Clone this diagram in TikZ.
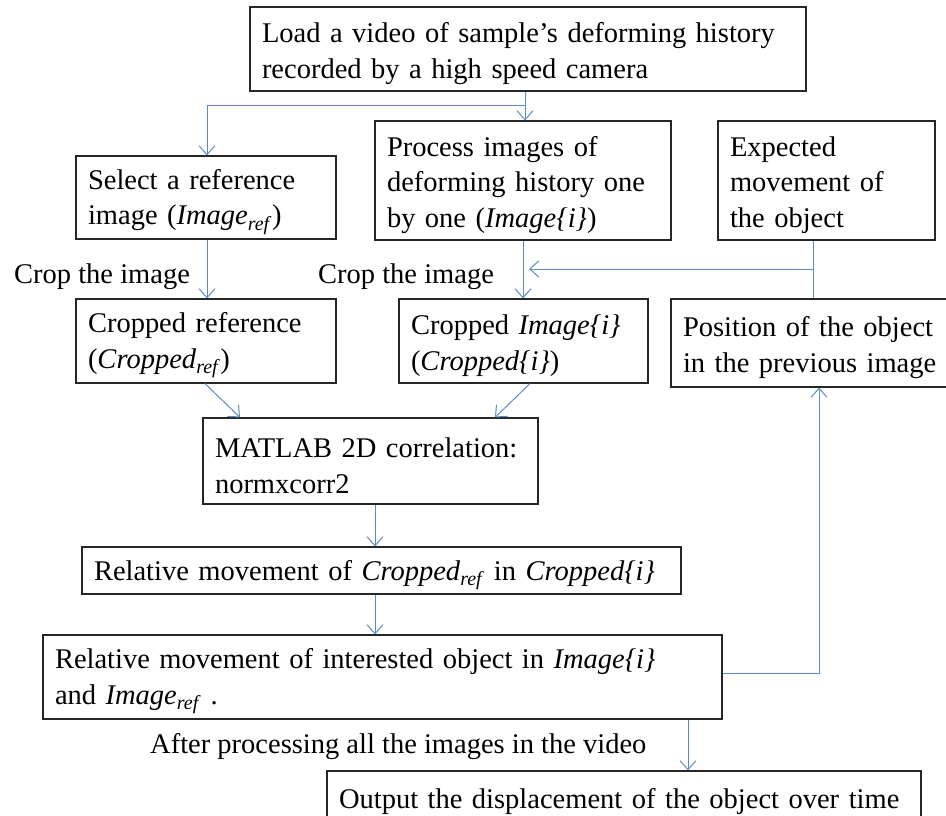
\documentclass[tikz,border=0pt]{standalone}
\usepackage{fontspec}
\setmainfont{Liberation Serif}
\usetikzlibrary{arrows.meta}
\definecolor{arrowblue}{HTML}{5B8BC9}
\tikzset{
  box/.style={draw=black!85, line width=1.1pt, rectangle, inner xsep=12pt, inner ysep=0pt, align=left, font=\fontsize{28.5}{35.5}\selectfont},
  arr/.style={draw=arrowblue, line width=1pt, -{Straight Barb[length=9pt,width=16pt,line width=1pt]}},
  ln/.style={draw=arrowblue, line width=1pt},
  lbl/.style={anchor=base west, inner sep=0pt, font=\fontsize{28.5}{35.5}\selectfont},
}
\newcommand{\mybox}[6]{% name, x1, y1, x2, y2, text
  \pgfmathsetmacro{\bw}{#4-#2}\pgfmathsetmacro{\bh}{#5-#3}
  \pgfmathsetmacro{\tw}{#4-#2-24}
  \node[box, minimum width=\bw pt, minimum height=\bh pt, text width=\tw pt] (#1) at ({(#2+#4)/2},{(#3+#5)/2}) {\rule{0pt}{29pt}#6};}
\newcommand{\sub}[1]{\textsubscript{\textit{#1}}}
\begin{document}
\begin{tikzpicture}[x=1pt,y=-1pt]
\useasboundingbox (0,0) rectangle (946,816);
\mybox{load}{250}{7}{806}{91}{Load a video of sample's deforming history\\recorded by a high speed camera}
\mybox{select}{76}{156}{336}{239}{Select a reference\\image (\textit{Image}\sub{ref})}
\mybox{process}{375}{121}{671}{240}{Process images of\\deforming history one\\by one (\textit{Image\{i\}})}
\mybox{expected}{718}{121}{935}{240}{Expected\\movement of\\the object}
\mybox{cref}{76}{299}{336}{383}{Cropped reference\\(\textit{Cropped}\sub{ref})}
\mybox{ci}{399}{299}{648}{383}{Cropped \textit{Image\{i\}}\\(\textit{Cropped\{i\}})}
\mybox{pos}{671}{299}{952}{387}{Position of the object\\in the previous image}
\mybox{matlab}{203}{418}{538}{504}{MATLAB 2D correlation:\\normxcorr2}
\mybox{rel1}{82}{547}{681}{594}{\mbox{Relative movement of \textit{Cropped}\sub{ref} in \textit{Cropped\{i\}}}}
\mybox{rel2}{43}{635}{722}{719}{Relative movement of interested object in \textit{Image\{i\}}\\and \textit{Image}\sub{ref} .}
\mybox{out}{327}{771}{921}{823}{Output the displacement of the object over time}

\node[lbl] (crop1) at (14,283) {Crop the image};
\node[lbl] (crop2) at (318,283) {Crop the image};
\node[lbl] (after) at (150,753) {After processing all the images in the video};

\coordinate (split) at (525,106);
\coordinate (lturn) at (207,106);
\coordinate (join) at (813,269);
\coordinate (joinend) at (529,269);
\coordinate (rturn) at (819,673);

\draw[arr] (load.south -| split) -- (process.north -| split);
\draw[arr] (split) -- (lturn) -- (select.north -| lturn);
\draw[arr] (select.south -| lturn) -- (cref.north -| lturn);
\draw[arr] (process.south -| 523,0) -- (ci.north -| 523,0);
\draw[ln] (expected.south -| join) -- (pos.north -| join);
\draw[arr] (join) -- (joinend);
\draw[arr] (cref.south -| 205,0) -- (matlab.north -| 240,0);
\draw[arr] (ci.south -| 530,0) -- (matlab.north -| 495,0);
\draw[arr] (matlab.south -| 375,0) -- (rel1.north -| 375,0);
\draw[arr] (rel1.south -| 375,0) -- (rel2.north -| 375,0);
\draw[arr] (rel2.east |- rturn) -- (rturn) -- (pos.south -| rturn);
\draw[arr] (rel2.south -| 688,0) -- (out.north -| 688,0);
\end{tikzpicture}
\end{document}
